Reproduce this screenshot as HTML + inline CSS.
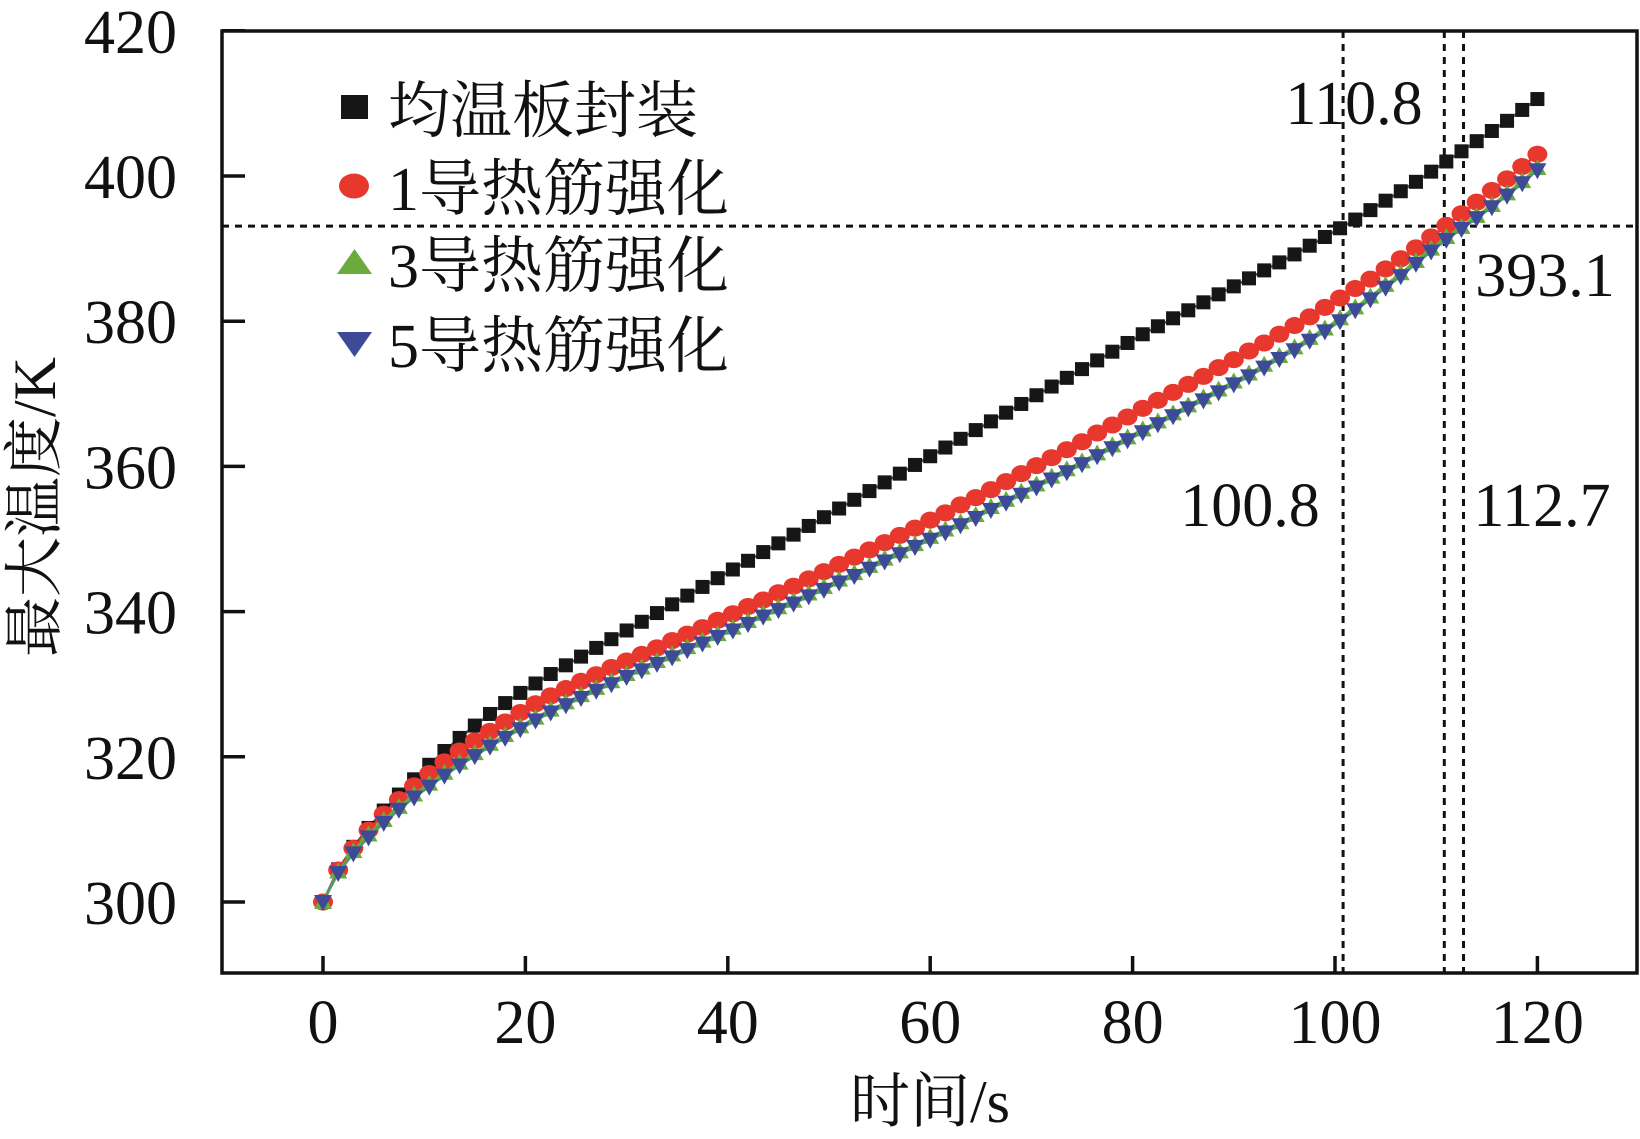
<!DOCTYPE html>
<html><head><meta charset="utf-8">
<style>
html,body{margin:0;padding:0;background:#fff;}
svg{display:block;}
.num{font-family:"Liberation Serif","Times New Roman",serif;}
.cjk{font-family:"Noto Serif CJK SC","Noto Sans CJK SC",serif;}
</style></head>
<body>
<svg id="chart" width="1640" height="1139" viewBox="0 0 1640 1139" xmlns="http://www.w3.org/2000/svg">
</svg>
<script>
const times = [0,1.5,3,4.5,6,7.5,9,10.5,12,13.5,15,16.5,18,19.5,21,22.5,24,25.5,27,28.5,30,31.5,33,34.5,36,37.5,39,40.5,42,43.5,45,46.5,48,49.5,51,52.5,54,55.5,57,58.5,60,61.5,63,64.5,66,67.5,69,70.5,72,73.5,75,76.5,78,79.5,81,82.5,84,85.5,87,88.5,90,91.5,93,94.5,96,97.5,99,100.5,102,103.5,105,106.5,108,109.5,111,112.5,114,115.5,117,118.5,120];
const seriesVC = [300.0,304.5,307.6,310.2,312.6,314.8,316.9,318.9,320.8,322.6,324.3,325.9,327.4,328.8,330.1,331.4,332.6,333.8,335.0,336.2,337.4,338.6,339.8,341.0,342.2,343.4,344.6,345.8,347.0,348.2,349.4,350.6,351.8,353.0,354.2,355.4,356.6,357.8,359.0,360.2,361.4,362.6,363.8,365.0,366.2,367.4,368.6,369.8,371.0,372.2,373.4,374.6,375.8,377.0,378.2,379.3,380.4,381.5,382.6,383.7,384.8,385.9,387.0,388.1,389.2,390.4,391.6,392.8,394.0,395.3,396.6,397.9,399.2,400.6,402.0,403.4,404.8,406.2,407.6,409.1,410.6];
const seriesR1 = [300.0,304.4,307.4,309.9,312.1,314.1,316.0,317.7,319.3,320.8,322.2,323.5,324.8,326.1,327.3,328.4,329.4,330.4,331.3,332.3,333.2,334.1,335.0,336.0,336.9,337.8,338.8,339.7,340.7,341.6,342.6,343.5,344.5,345.5,346.5,347.5,348.5,349.5,350.5,351.5,352.6,353.6,354.7,355.7,356.8,357.9,359.0,360.1,361.2,362.3,363.4,364.6,365.7,366.8,368.0,369.1,370.2,371.3,372.4,373.6,374.7,375.9,377.0,378.2,379.4,380.6,381.9,383.2,384.5,385.8,387.2,388.6,390.1,391.6,393.2,394.8,396.4,398.0,399.6,401.3,403.0];
const seriesR3 = [300.0,304.2,307.0,309.3,311.3,313.1,314.8,316.3,317.8,319.2,320.5,321.8,323.0,324.2,325.4,326.5,327.5,328.5,329.5,330.4,331.4,332.3,333.2,334.1,335.1,336.0,336.9,337.8,338.7,339.7,340.6,341.5,342.5,343.4,344.4,345.3,346.3,347.3,348.3,349.3,350.3,351.3,352.3,353.3,354.4,355.4,356.5,357.5,358.6,359.6,360.7,361.8,362.9,364.0,365.1,366.2,367.3,368.4,369.5,370.6,371.7,372.8,374.0,375.2,376.4,377.7,379.0,380.4,381.9,383.4,385.0,386.6,388.3,390.0,391.6,393.0,394.5,396.0,397.6,399.3,401.1];
const seriesR5 = [300.0,304.0,306.7,308.9,310.9,312.7,314.4,315.9,317.4,318.8,320.1,321.4,322.6,323.8,325.0,326.1,327.1,328.1,329.1,330.0,331.0,331.9,332.8,333.7,334.7,335.6,336.5,337.4,338.3,339.3,340.2,341.1,342.1,343.0,344.0,344.9,345.9,346.9,347.9,348.9,349.9,350.9,351.9,352.9,354.0,355.0,356.1,357.1,358.2,359.2,360.3,361.4,362.5,363.6,364.7,365.8,366.9,368.0,369.1,370.2,371.3,372.4,373.6,374.8,376.0,377.3,378.6,380.0,381.5,383.0,384.6,386.2,387.9,389.6,391.2,392.7,394.2,395.7,397.3,399.0,400.8];
const xTicks = [0,20,40,60,80,100,120];
const yTicks = [300,320,340,360,380,400,420];
const vLines = [100.8,110.8,112.7];
const hLineValue = 393.1;
const legendNums = ["","1","3","5"];
const legendLabels = ["均温板封装","导热筋强化","导热筋强化","导热筋强化"];

const NS = "http://www.w3.org/2000/svg";
const svg = document.getElementById("chart");
const L=222, R=1637, T=31, B=973;
function xs(t){ return 323 + t*10.12; }
function ys(v){ return 902 - (v-300)*7.26; }
function mk(tag, attrs, parent){
  const e=document.createElementNS(NS,tag);
  for(const k in attrs) e.setAttribute(k, attrs[k]);
  (parent||svg).appendChild(e); return e;
}
function txt(s, attrs, cls){ const e=mk("text",attrs); e.setAttribute("class",cls||"num"); e.textContent=s; return e; }

vLines.forEach(v=>{
  const l=mk("line",{x1:xs(v),x2:xs(v),y1:T,y2:B,stroke:"#111","stroke-width":3,"stroke-dasharray":"7,6"});
  
  
});
const hl=mk("line",{x1:L,x2:R,y1:ys(hLineValue),y2:ys(hLineValue),stroke:"#111","stroke-width":3,"stroke-dasharray":"7,6"});



const box=mk("path",{d:`M${L},${T} H${R} V${B} H${L} Z`,fill:"none",stroke:"#111","stroke-width":3.5});



xTicks.forEach(t=>{
  const tk=mk("line",{x1:xs(t),x2:xs(t),y1:B,y2:B-17,stroke:"#111","stroke-width":3.5});
  
  
  const lb=txt(String(t),{x:xs(t),y:1043,"font-size":62,"text-anchor":"middle",fill:"#111"});
  
  
});
yTicks.forEach(v=>{
  const tk=mk("line",{x1:L,x2:L+23,y1:ys(v),y2:ys(v),stroke:"#111","stroke-width":3.5});
  
  
  const lb=txt(String(v),{x:177,y:ys(v)+22,"font-size":62,"text-anchor":"end",fill:"#111"});
  
  
});

const xt=mk("text",{x:930,y:1122,"font-size":60,"text-anchor":"middle",fill:"#111"});


const xt1=mk("tspan",{class:"cjk"},xt); xt1.textContent="时间";
const xt2=mk("tspan",{class:"num"},xt); xt2.textContent="/s";
const yt=mk("text",{x:0,y:0,"font-size":60,"text-anchor":"middle",fill:"#111",transform:"translate(55,507) rotate(-90)"});


const yt1=mk("tspan",{class:"cjk"},yt); yt1.textContent="最大温度";
const yt2=mk("tspan",{class:"num"},yt); yt2.textContent="/K";

[["110.8",1354,124],["393.1",1545,296],["100.8",1250,526],["112.7",1542,526]].forEach(a=>{
  const e=txt(a[0],{x:a[1],y:a[2],"font-size":62,"text-anchor":"middle",fill:"#111"});
  
  
});

function marker(type,cx,cy,color,parent){
  let e;
  if(type==="sq") e=mk("rect",{x:cx-7,y:cy-7,width:14,height:14,fill:color},parent);
  else if(type==="ci") e=mk("ellipse",{cx:cx,cy:cy,rx:10,ry:8.5,fill:color},parent);
  else if(type==="up") e=mk("path",{d:`M${cx-9},${cy+7} L${cx+9},${cy+7} L${cx},${cy-9} Z`,fill:color},parent);
  else e=mk("path",{d:`M${cx-9},${cy-7} L${cx+9},${cy-7} L${cx},${cy+9} Z`,fill:color},parent);
  return e;
}

const series=[
  {vals:seriesVC,type:"sq",color:"#161616",line:"#555",name:"series-vapor-chamber"},
  {vals:seriesR1,type:"ci",color:"#e8372c",line:"#e8372c",name:"series-1-rib"},
  {vals:seriesR3,type:"up",color:"#6aab3c",line:"#6aab3c",name:"series-3-rib"},
  {vals:seriesR5,type:"dn",color:"#3d4a97",line:"#4a9a6a",name:"series-5-rib"}
];
series.forEach(s=>{
  const g=mk("g",{});
  
  
  const d=s.vals.map((v,i)=>(i?"L":"M")+xs(times[i]).toFixed(1)+","+ys(v).toFixed(1)).join(" ");
  const p=mk("path",{d:d,fill:"none",stroke:s.line,"stroke-width":2.5},g);
  
  
  s.vals.forEach((v,i)=>{
    const m=marker(s.type,xs(times[i]),ys(v),s.color,g);
    
    
  });
});

const legY=[108,186,263,343];
legendLabels.forEach((lab,i)=>{
  const g=mk("g",{});
  
  
  const s=series[i];
  if(s.type==="sq") mk("rect",{x:341,y:legY[i]-13,width:27,height:24,fill:s.color},g);
  else if(s.type==="ci") mk("ellipse",{cx:354,cy:legY[i],rx:15,ry:12.5,fill:s.color},g);
  else if(s.type==="up") mk("path",{d:`M${337},${legY[i]+11} L${372},${legY[i]+11} L${354.5},${legY[i]-14} Z`,fill:s.color},g);
  else mk("path",{d:`M${337},${legY[i]-11} L${372},${legY[i]-11} L${354.5},${legY[i]+14} Z`,fill:s.color},g);
  const t=mk("text",{x:388,y:legY[i]+24,"font-size":62,fill:"#111"},g);
  
  
  if(legendNums[i]){ const n=mk("tspan",{class:"num"},t); n.textContent=legendNums[i]; }
  const c=mk("tspan",{class:"cjk"},t); c.textContent=lab;
});
</script>
</body></html>
